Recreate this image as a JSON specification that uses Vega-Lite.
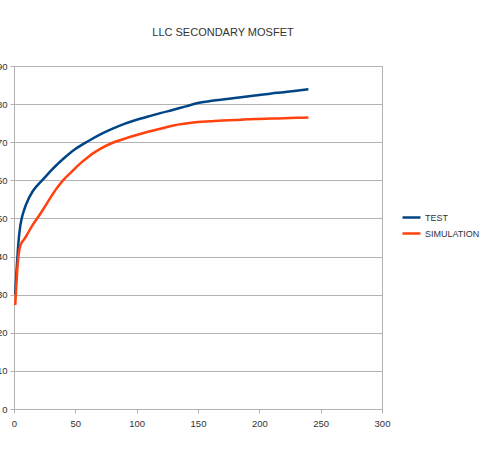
{
  "$schema": "https://vega.github.io/schema/vega-lite/v6.json",
  "autosize": {"type": "none"},
  "width": 368,
  "height": 343,
  "padding": {"left": 14, "top": 66, "right": 113, "bottom": 41},
  "background": "white",
  "title": {
    "text": "LLC SECONDARY MOSFET",
    "font": "Liberation Sans Narrow, Liberation Sans, Arial",
    "fontSize": 11,
    "fontWeight": "normal",
    "color": "#333333",
    "anchor": "middle",
    "dx": 25,
    "offset": 23
  },
  "config": {
    "view": {"stroke": "#b3b3b3", "strokeWidth": 1},
    "axis": {
      "labelFont": "Liberation Sans Narrow, Liberation Sans, Arial",
      "labelFontSize": 9.5,
      "labelColor": "#333333",
      "domainColor": "#b3b3b3",
      "tickColor": "#b3b3b3",
      "gridColor": "#b3b3b3",
      "tickSize": 4,
      "title": null
    },
    "legend": {
      "labelFont": "Liberation Sans Narrow, Liberation Sans, Arial",
      "labelFontSize": 9,
      "labelColor": "#333333"
    }
  },
  "data": {
    "values": [
      {"x": 1, "y": 30, "series": "TEST"},
      {"x": 2, "y": 36, "series": "TEST"},
      {"x": 3, "y": 41, "series": "TEST"},
      {"x": 4, "y": 45, "series": "TEST"},
      {"x": 5, "y": 47.8, "series": "TEST"},
      {"x": 6, "y": 49.6, "series": "TEST"},
      {"x": 8, "y": 52, "series": "TEST"},
      {"x": 10, "y": 53.8, "series": "TEST"},
      {"x": 15, "y": 57, "series": "TEST"},
      {"x": 20, "y": 59, "series": "TEST"},
      {"x": 25, "y": 60.7, "series": "TEST"},
      {"x": 30, "y": 62.5, "series": "TEST"},
      {"x": 35, "y": 64.1, "series": "TEST"},
      {"x": 40, "y": 65.6, "series": "TEST"},
      {"x": 45, "y": 67.0, "series": "TEST"},
      {"x": 50, "y": 68.2, "series": "TEST"},
      {"x": 60, "y": 70.2, "series": "TEST"},
      {"x": 70, "y": 72.0, "series": "TEST"},
      {"x": 80, "y": 73.5, "series": "TEST"},
      {"x": 90, "y": 74.8, "series": "TEST"},
      {"x": 100, "y": 75.9, "series": "TEST"},
      {"x": 110, "y": 76.8, "series": "TEST"},
      {"x": 120, "y": 77.7, "series": "TEST"},
      {"x": 130, "y": 78.5, "series": "TEST"},
      {"x": 140, "y": 79.4, "series": "TEST"},
      {"x": 150, "y": 80.3, "series": "TEST"},
      {"x": 160, "y": 80.8, "series": "TEST"},
      {"x": 170, "y": 81.2, "series": "TEST"},
      {"x": 180, "y": 81.6, "series": "TEST"},
      {"x": 190, "y": 82.0, "series": "TEST"},
      {"x": 200, "y": 82.4, "series": "TEST"},
      {"x": 210, "y": 82.8, "series": "TEST"},
      {"x": 220, "y": 83.1, "series": "TEST"},
      {"x": 230, "y": 83.5, "series": "TEST"},
      {"x": 240, "y": 83.9, "series": "TEST"},
      {"x": 1, "y": 27.3, "series": "SIMULATION"},
      {"x": 2, "y": 33, "series": "SIMULATION"},
      {"x": 3, "y": 38, "series": "SIMULATION"},
      {"x": 4, "y": 41, "series": "SIMULATION"},
      {"x": 5, "y": 42.7, "series": "SIMULATION"},
      {"x": 6, "y": 43.5, "series": "SIMULATION"},
      {"x": 8, "y": 44.4, "series": "SIMULATION"},
      {"x": 10, "y": 45.4, "series": "SIMULATION"},
      {"x": 15, "y": 48.2, "series": "SIMULATION"},
      {"x": 20, "y": 50.5, "series": "SIMULATION"},
      {"x": 25, "y": 53.0, "series": "SIMULATION"},
      {"x": 30, "y": 55.6, "series": "SIMULATION"},
      {"x": 35, "y": 58.0, "series": "SIMULATION"},
      {"x": 40, "y": 60.0, "series": "SIMULATION"},
      {"x": 45, "y": 61.6, "series": "SIMULATION"},
      {"x": 50, "y": 63.2, "series": "SIMULATION"},
      {"x": 55, "y": 64.7, "series": "SIMULATION"},
      {"x": 60, "y": 66.0, "series": "SIMULATION"},
      {"x": 65, "y": 67.2, "series": "SIMULATION"},
      {"x": 70, "y": 68.2, "series": "SIMULATION"},
      {"x": 80, "y": 69.8, "series": "SIMULATION"},
      {"x": 90, "y": 70.9, "series": "SIMULATION"},
      {"x": 100, "y": 71.9, "series": "SIMULATION"},
      {"x": 110, "y": 72.8, "series": "SIMULATION"},
      {"x": 120, "y": 73.6, "series": "SIMULATION"},
      {"x": 130, "y": 74.4, "series": "SIMULATION"},
      {"x": 140, "y": 74.9, "series": "SIMULATION"},
      {"x": 150, "y": 75.3, "series": "SIMULATION"},
      {"x": 160, "y": 75.5, "series": "SIMULATION"},
      {"x": 170, "y": 75.7, "series": "SIMULATION"},
      {"x": 180, "y": 75.8, "series": "SIMULATION"},
      {"x": 190, "y": 76.0, "series": "SIMULATION"},
      {"x": 200, "y": 76.1, "series": "SIMULATION"},
      {"x": 210, "y": 76.2, "series": "SIMULATION"},
      {"x": 220, "y": 76.3, "series": "SIMULATION"},
      {"x": 230, "y": 76.4, "series": "SIMULATION"},
      {"x": 240, "y": 76.5, "series": "SIMULATION"}
    ]
  },
  "mark": {"type": "line", "strokeWidth": 2.5, "interpolate": "monotone"},
  "encoding": {
    "x": {
      "field": "x",
      "type": "quantitative",
      "scale": {"domain": [0, 300], "nice": false},
      "axis": {"values": [0, 50, 100, 150, 200, 250, 300], "grid": false, "labelPadding": 5, "labelFlush": false}
    },
    "y": {
      "field": "y",
      "type": "quantitative",
      "scale": {"domain": [0, 90], "nice": false},
      "axis": {"values": [0, 10, 20, 30, 40, 50, 60, 70, 80, 90], "grid": true, "labelPadding": 3, "labelFlush": false}
    },
    "color": {
      "field": "series",
      "type": "nominal",
      "sort": ["TEST", "SIMULATION"],
      "scale": {"domain": ["TEST", "SIMULATION"], "range": ["#004586", "#ff420e"]},
      "legend": {
        "title": null,
        "orient": "none",
        "legendX": 387,
        "legendY": 141,
        "padding": 0,
        "symbolType": "stroke",
        "symbolSize": 324,
        "symbolStrokeWidth": 2.5,
        "labelOffset": 3,
        "rowPadding": 0
      }
    }
  }
}
